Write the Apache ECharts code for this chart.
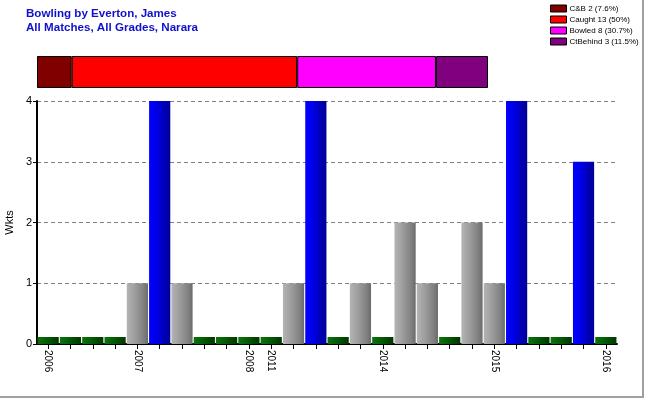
<!DOCTYPE html>
<html>
<head>
<meta charset="utf-8">
<script src="https://cdn.jsdelivr.net/npm/echarts@6/dist/echarts.min.js"></script>
<style>
html,body{margin:0;padding:0;background:#fff;}
#chart{width:650px;height:400px;}
</style>
</head>
<body>
<div id="chart"></div>
<script>
// ---- data ----
var tickLabels = ['2006','','','','2007','','','','','2008','2011','','','','','2014','','','','','2015','','','','','2016'];
var wkts = [0,0,0,0,1,4,1,0,0,0,0,1,4,0,1,0,2,1,0,2,1,4,0,0,3,0];
var dismissNames = ['C&B','Caught','Bowled','CtBehind'];
var dismissCounts = [2,13,8,3];
var dismissColors = ['#800000','#ff0000','#ff00ff','#800080'];
var titleLines = ['Bowling by Everton, James','All Matches, All Grades, Narara'];

var matchIds = tickLabels.map(function(_, i){ return 'M' + (i + 1); });
var total = dismissCounts.reduce(function(a,b){return a+b;}, 0);

function grad(stops){
  return new echarts.graphic.LinearGradient(0,0,1,0, stops.map(function(c,i){
    return {offset: i/(stops.length-1), color: c};
  }));
}
var greenFill = grad(['#0b740b','#086608','#055805','#034603','#013601']);
var grayFill = grad(['#b4b4b4','#a8a8a8','#9c9c9c','#8e8e8e','#808080','#6a6a6a']);
var blueFill = grad(['#0000ff','#0000f0','#0000d8','#0000b0','#00009a']);

var barData = wkts.map(function(v){
  var fill = v === 0 ? greenFill : (v >= 3 ? blueFill : grayFill);
  return {value: v, itemStyle: {color: fill}};
});

var dismissSeries = dismissNames.map(function(n, i){
  var pct = Math.floor(dismissCounts[i] / total * 1000) / 10;
  return {
    name: n + ' ' + dismissCounts[i] + ' (' + pct + '%)',
    type: 'bar',
    stack: 'd',
    xAxisIndex: 1,
    yAxisIndex: 1,
    barWidth: '100%',
    data: [dismissCounts[i]],
    itemStyle: {color: dismissColors[i], borderColor: '#000', borderWidth: 1},
    silent: true
  };
});

var chart = echarts.init(document.getElementById('chart'), null, {renderer: 'canvas'});
chart.setOption({
  animation: false,
  backgroundColor: '#fff',
  title: {
    text: titleLines.join('\n'),
    left: 26, top: 7, padding: 0,
    textStyle: {fontFamily: 'Liberation Sans', fontSize: 11.6, fontWeight: 'bold', color: '#1010cc', lineHeight: 14}
  },
  legend: {
    orient: 'vertical',
    left: 550, top: 3, padding: 0,
    itemWidth: 16, itemHeight: 7,
    itemGap: 0,
    icon: 'rect',
    itemStyle: {borderColor: '#000', borderWidth: 1},
    textStyle: {fontFamily: 'Liberation Sans', fontSize: 8, color: '#000', padding: [0,0,0,-2], lineHeight: 11},
    data: dismissSeries.map(function(s){ return s.name; })
  },
  graphic: [
    {type: 'line', shape: {x1: 643, y1: 0, x2: 643, y2: 398}, style: {stroke: '#a0a0a0', lineWidth: 2}},
    {type: 'line', shape: {x1: 0, y1: 397, x2: 644, y2: 397}, style: {stroke: '#a0a0a0', lineWidth: 2}}
  ],
  grid: [
    {left: 37, right: 33, top: 101, bottom: 56, outerBoundsMode: 'none', containLabel: false},
    {left: 37, width: 451, top: 56, height: 32, outerBoundsMode: 'none', containLabel: false}
  ],
  xAxis: [
    {
      type: 'category',
      data: matchIds,
      gridIndex: 0,
      axisLine: {lineStyle: {color: '#000', width: 2}},
      axisTick: {show: true, alignWithLabel: true, interval: 0, length: 5, lineStyle: {color: '#000'}},
      axisLabel: {
        interval: 0, rotate: -90, margin: 6,
        fontFamily: 'Liberation Sans', fontSize: 10, color: '#000',
        formatter: function(v, i){ return tickLabels[i]; }
      },
      splitLine: {show: false}
    },
    {type: 'value', gridIndex: 1, min: 0, max: total, show: false}
  ],
  yAxis: [
    {
      type: 'value', gridIndex: 0, min: 0, max: 4, interval: 1,
      name: 'Wkts', nameLocation: 'middle', nameGap: 18, nameRotate: 90,
      nameTextStyle: {fontFamily: 'Liberation Sans', fontSize: 11, color: '#000'},
      axisLine: {show: true, lineStyle: {color: '#000', width: 2}},
      axisTick: {show: true, length: 4, lineStyle: {color: '#000'}},
      axisLabel: {margin: 5, fontFamily: 'Liberation Sans', fontSize: 11, color: '#000'},
      splitLine: {show: true, lineStyle: {color: '#808080', type: [4, 3], width: 1}}
    },
    {type: 'category', gridIndex: 1, data: ['d'], show: false}
  ],
  series: [{
    type: 'bar',
    xAxisIndex: 0, yAxisIndex: 0,
    barCategoryGap: '5%',
    barMinHeight: 7,
    data: barData,
    silent: true
  }].concat(dismissSeries)
});
</script>
</body>
</html>
